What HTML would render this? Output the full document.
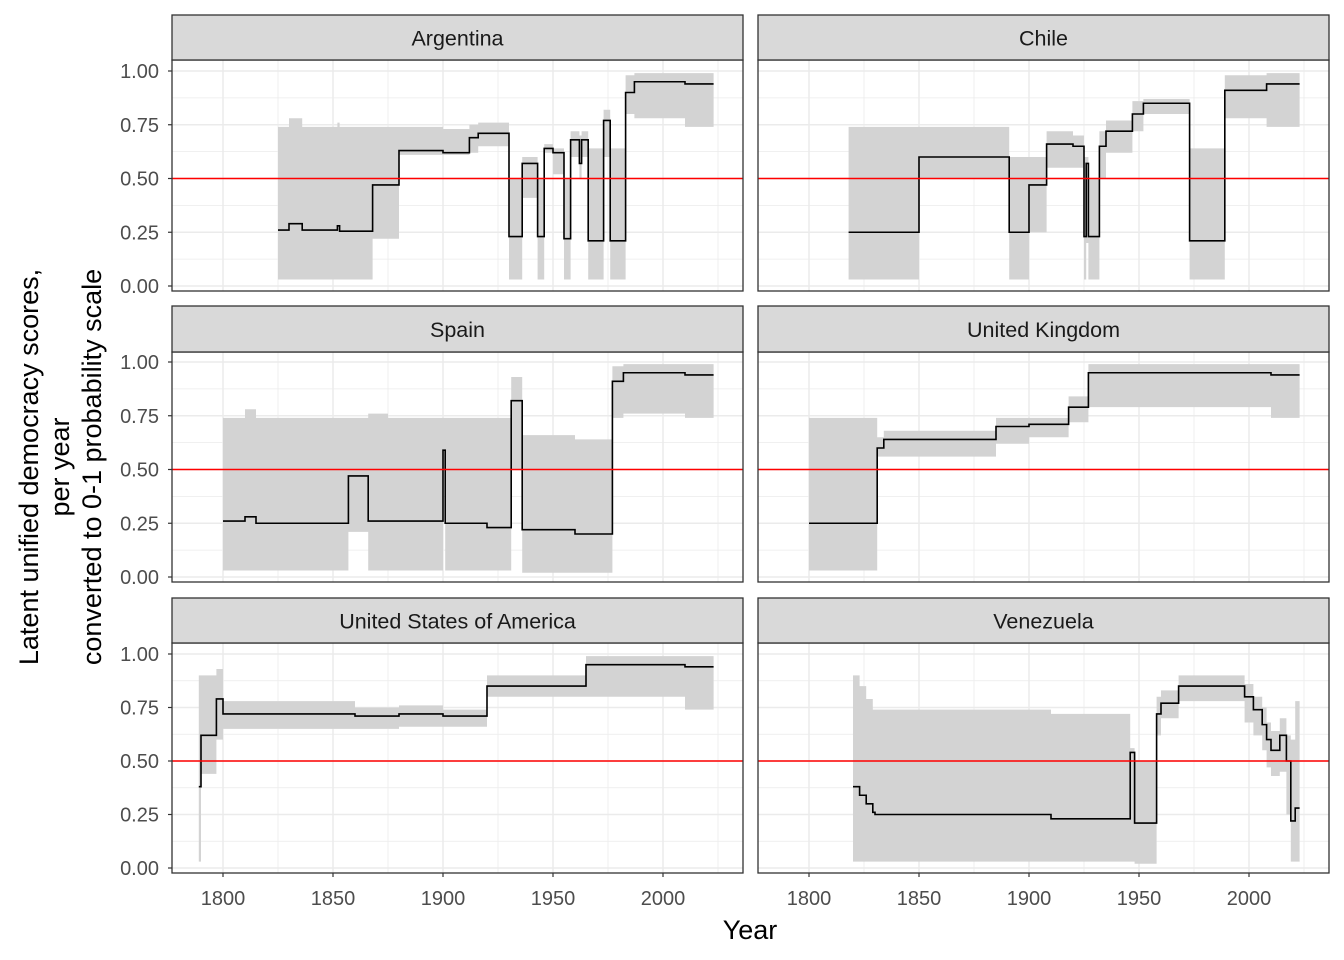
<!DOCTYPE html>
<html><head><meta charset="utf-8"><style>
body{margin:0;background:#fff}
svg{display:block;font-family:"Liberation Sans",sans-serif}
</style></head><body>
<svg id="c" width="1344" height="960"></svg>
<script>
// [year, median, lower, upper] step breakpoints
const argentina=[[1825,0.26,0.03,0.74],[1830,0.29,0.03,0.78],[1836,0.26,0.03,0.74],[1852,0.28,0.03,0.76],[1853,0.255,0.03,0.74],[1868,0.47,0.22,0.74],[1880,0.63,0.61,0.74],[1900,0.62,0.61,0.73],[1912,0.69,0.62,0.75],[1916,0.71,0.65,0.76],[1930,0.23,0.03,0.5],[1936,0.57,0.41,0.6],[1943,0.23,0.03,0.5],[1946,0.64,0.62,0.66],[1950,0.62,0.52,0.64],[1955,0.22,0.03,0.5],[1958,0.68,0.6,0.72],[1962,0.57,0.5,0.7],[1963,0.68,0.6,0.72],[1966,0.21,0.03,0.64],[1973,0.77,0.6,0.82],[1976,0.21,0.03,0.64],[1983,0.9,0.8,0.98],[1987,0.95,0.78,0.99],[2010,0.94,0.74,0.99]];
const chile=[[1818,0.25,0.03,0.74],[1850,0.6,0.5,0.74],[1891,0.25,0.03,0.6],[1900,0.47,0.25,0.6],[1908,0.66,0.55,0.72],[1920,0.65,0.55,0.7],[1925,0.23,0.03,0.6],[1926,0.57,0.2,0.6],[1927,0.23,0.03,0.5],[1932,0.65,0.5,0.72],[1935,0.72,0.62,0.77],[1947,0.8,0.72,0.86],[1952,0.85,0.8,0.87],[1973,0.21,0.03,0.64],[1989,0.91,0.78,0.98],[2008,0.94,0.74,0.99]];
const spain=[[1800,0.26,0.03,0.74],[1810,0.28,0.03,0.78],[1815,0.25,0.03,0.74],[1857,0.47,0.21,0.74],[1866,0.26,0.03,0.76],[1875,0.26,0.03,0.74],[1900,0.59,0.5,0.74],[1901,0.25,0.03,0.74],[1920,0.23,0.03,0.74],[1931,0.82,0.5,0.93],[1936,0.22,0.02,0.66],[1960,0.2,0.02,0.64],[1977,0.91,0.74,0.98],[1982,0.95,0.76,0.99],[2010,0.94,0.74,0.99]];
const uk=[[1800,0.25,0.03,0.74],[1831,0.6,0.56,0.65],[1834,0.64,0.56,0.68],[1885,0.7,0.62,0.74],[1900,0.71,0.65,0.74],[1918,0.79,0.72,0.84],[1927,0.95,0.79,0.99],[2010,0.94,0.74,0.99]];
const usa=[[1789,0.38,0.03,0.9],[1790,0.62,0.44,0.9],[1797,0.79,0.6,0.93],[1800,0.72,0.65,0.78],[1860,0.71,0.65,0.75],[1880,0.72,0.66,0.76],[1900,0.71,0.66,0.74],[1920,0.85,0.8,0.9],[1965,0.95,0.8,0.99],[2010,0.94,0.74,0.99]];
const venezuela=[[1820,0.38,0.03,0.9],[1823,0.34,0.03,0.85],[1826,0.3,0.03,0.79],[1829,0.26,0.03,0.74],[1830,0.25,0.03,0.74],[1910,0.23,0.03,0.72],[1946,0.54,0.03,0.56],[1948,0.21,0.02,0.5],[1958,0.72,0.62,0.8],[1960,0.77,0.7,0.83],[1968,0.85,0.78,0.9],[1998,0.8,0.68,0.86],[2002,0.74,0.62,0.8],[2006,0.67,0.55,0.75],[2008,0.6,0.47,0.68],[2010,0.55,0.43,0.64],[2014,0.62,0.45,0.7],[2017,0.5,0.25,0.62],[2019,0.22,0.03,0.6],[2021,0.28,0.03,0.78]];
const countries=["Argentina","Chile","Spain","United Kingdom","United States of America","Venezuela"];
const seriesList=[argentina,chile,spain,uk,usa,venezuela];
const xTicks=[1800,1850,1900,1950,2000];
const yTicks=[0,0.25,0.5,0.75,1];
const endYear=2023;

const NS="http://www.w3.org/2000/svg",svg=document.getElementById('c');
function el(t,a,p){const e=document.createElementNS(NS,t);for(const k in a)e.setAttribute(k,a[k]);(p||svg).appendChild(e);return e;}
const cols=[[172,743],[758,1329]];
const rows=[{s:15,t:60,b:291,y1:71,y0:286},{s:306,t:352,b:582,y1:362,y0:577},{s:598,t:643,b:873,y1:654,y0:868}];
seriesList.forEach((data,i)=>{
  const c=cols[i%2],r=rows[Math.floor(i/2)];
  const X=y=>c[0]+51+(y-1800)*2.2, Y=v=>r.y0-(r.y0-r.y1)*v;
  const g=el('g',{});
  
  
  el('rect',{x:c[0],y:r.t,width:c[1]-c[0],height:r.b-r.t,fill:'#fff'},g);
  for(let y=1775;y<=2025;y+=25){const x=X(y);if(x>c[0]&&x<c[1])el('line',{x1:x,x2:x,y1:r.t,y2:r.b,stroke:'#ebebeb','stroke-width':y%50?0.8:1.5},g);}
  for(let v=-0.125;v<=1.13;v+=0.125){const y=Y(v);if(y>r.t&&y<r.b)el('line',{x1:c[0],x2:c[1],y1:y,y2:y,stroke:'#ebebeb','stroke-width':(v*8)%2?0.8:1.5},g);}
  let up=[],lo=[],md=[];
  data.forEach((d,k)=>{const nx=k<data.length-1?data[k+1][0]:endYear;
    up.push([X(d[0]),Y(d[3])],[X(nx),Y(d[3])]);lo.push([X(d[0]),Y(d[2])],[X(nx),Y(d[2])]);
    md.push([X(d[0]),Y(d[1])],[X(nx),Y(d[1])]);});
  const rib=el('polygon',{points:up.concat(lo.reverse()).map(p=>p.join(',')).join(' '),fill:'#d3d3d3'},g);
  
  
  const ln=el('polyline',{points:md.map(p=>p.join(',')).join(' '),fill:'none',stroke:'#000','stroke-width':1.6},g);
  
  
  el('line',{x1:c[0],x2:c[1],y1:Y(0.5),y2:Y(0.5),stroke:'#ff0000','stroke-width':1.6},g);
  el('rect',{x:c[0],y:r.t,width:c[1]-c[0],height:r.b-r.t,fill:'none',stroke:'#333','stroke-width':1.3},g);
  const st=el('rect',{x:c[0],y:r.s,width:c[1]-c[0],height:r.t-r.s,fill:'#d9d9d9',stroke:'#333','stroke-width':1.3},g);
  
  
  const tt=el('text',{x:(c[0]+c[1])/2,y:(r.s+r.t)/2+8,'text-anchor':'middle','font-size':21.5,fill:'#1a1a1a'},g);
  tt.textContent=countries[i];
  
  
  if(i%2==0){yTicks.forEach(v=>{el('line',{x1:c[0]-4,x2:c[0],y1:Y(v),y2:Y(v),stroke:'#333','stroke-width':1.2},g);
    const t=el('text',{x:c[0]-13,y:Y(v)+7,'text-anchor':'end','font-size':20,fill:'#4d4d4d'},g);t.textContent=v.toFixed(2);
    
    });}
  if(i>=4){xTicks.forEach(y=>{el('line',{x1:X(y),x2:X(y),y1:r.b,y2:r.b+4,stroke:'#333','stroke-width':1.2},g);
    const t=el('text',{x:X(y),y:r.b+32,'text-anchor':'middle','font-size':20,fill:'#4d4d4d'},g);t.textContent=y;
    
    });}
});
</script>
<svg style="position:absolute;left:0;top:0" width="1344" height="960">
<text x="750" y="939" text-anchor="middle" font-size="27" fill="#000">Year</text>
<g transform="translate(62,467) rotate(-90)" font-size="27" text-anchor="middle" fill="#000">
<text x="0" y="-24">Latent unified democracy scores,</text>
<text x="0" y="7">per year</text>
<text x="0" y="39">converted to 0-1 probability scale</text>
</g>
</svg>
</body></html>
